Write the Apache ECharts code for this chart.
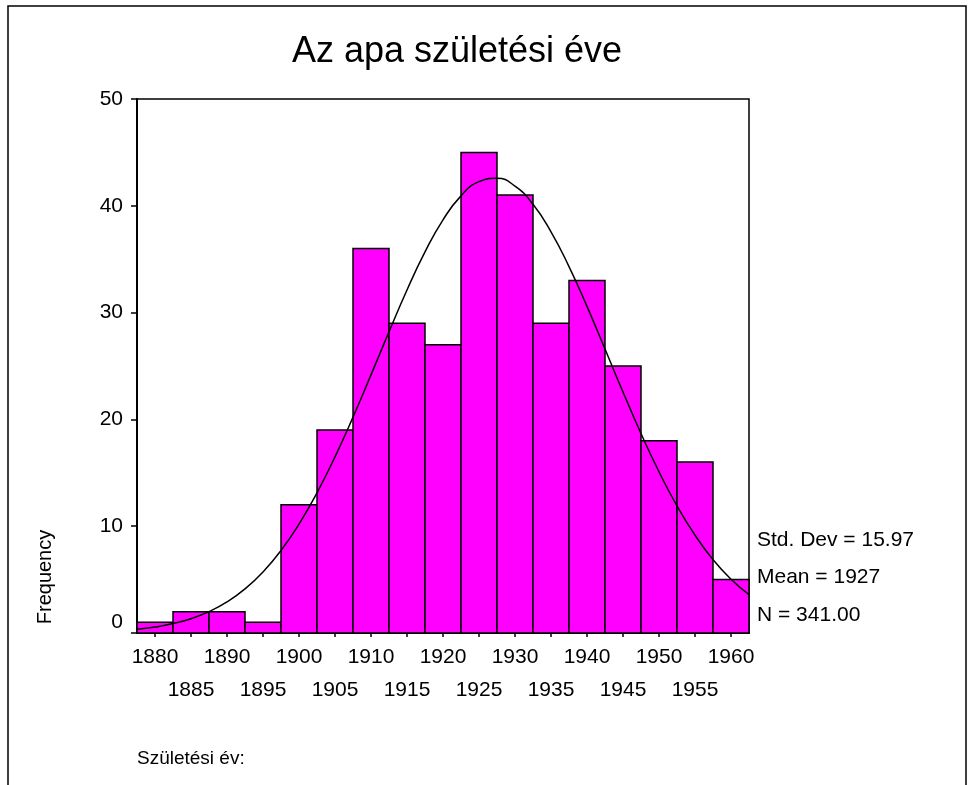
<!DOCTYPE html>
<html>
<head>
<meta charset="utf-8">
<script src="https://cdn.jsdelivr.net/npm/echarts@6/dist/echarts.min.js"></script>
<style>
  html, body { margin: 0; padding: 0; background: #fff; }
  #main { width: 973px; height: 785px; }
</style>
</head>
<body>
<div id="main"></div>
<script>
'use strict'
// bin midpoints (5-year bins) and counts
var binYears = [1880, 1885, 1890, 1895, 1900, 1905, 1910, 1915, 1920, 1925, 1930, 1935, 1940, 1945, 1950, 1955, 1960];
var binCounts = [1, 2, 2, 1, 12, 19, 36, 29, 27, 45, 41, 29, 33, 25, 18, 16, 5];

// fitted normal curve
var curveYears = [1877.5, 1880, 1882.5, 1885, 1887.5, 1890, 1892.5, 1895, 1897.5, 1900, 1902.5, 1905, 1907.5, 1910,
    1912.5, 1915, 1917.5, 1920, 1922.5, 1925, 1927.5, 1930, 1932.5, 1935, 1937.5, 1940, 1942.5, 1945, 1947.5,
    1950, 1952.5, 1955, 1957.5, 1960, 1962.5];
var curveValues = [0.35, 0.56, 0.88, 1.34, 2.0, 2.91, 4.13, 5.72, 7.73, 10.2, 13.13, 16.49, 20.21, 24.17,
    28.2, 32.12, 35.68, 38.69, 40.93, 42.26, 42.57, 41.84, 40.14, 37.57, 34.31, 30.58, 26.59, 22.56, 18.68,
    15.1, 11.9, 9.16, 6.87, 5.03, 3.6];

var xTickValues = [1880, 1885, 1890, 1895, 1900, 1905, 1910, 1915, 1920, 1925, 1930, 1935, 1940, 1945, 1950, 1955, 1960];
var xLabelsRow1 = [1880, 1890, 1900, 1910, 1920, 1930, 1940, 1950, 1960];
var xLabelsRow2 = [1885, 1895, 1905, 1915, 1925, 1935, 1945, 1955];
var yTickValues = [0, 10, 20, 30, 40, 50];

var statLines = ['Std. Dev = 15.97', 'Mean = 1927', 'N = 341.00'];

var chart = echarts.init(document.getElementById('main'));

var font = 'Arial, "Liberation Sans", sans-serif';

var barData = binYears.map(function (y, i) { return [y, binCounts[i]]; });
var curveData = curveYears.map(function (y, i) { return [y, curveValues[i]]; });

var xLabelBase = {
    showMinLabel: true,
    showMaxLabel: true,
    hideOverlap: false,
    color: '#000',
    fontFamily: font,
    fontSize: 21,
    formatter: function (v) { return String(v); }
};

var option = {
    backgroundColor: '#fff',
    animation: false,
    grid: {
        left: 137,
        right: 224,
        top: 99,
        bottom: 152,
        show: true,
        borderColor: '#000',
        borderWidth: 1.5
    },
    xAxis: [
        {
            type: 'value',
            min: 1877.5,
            max: 1962.5,
            splitLine: { show: false },
            axisLine: { onZero: false, lineStyle: { color: '#000', width: 2 } },
            axisTick: {
                customValues: xTickValues,
                length: 4,
                lineStyle: { color: '#000', width: 1.5 }
            },
            axisLabel: Object.assign({ customValues: xLabelsRow1, margin: 14 }, xLabelBase)
        },
        {
            type: 'value',
            position: 'bottom',
            min: 1877.5,
            max: 1962.5,
            splitLine: { show: false },
            axisLine: { show: false, onZero: false },
            axisTick: { show: false },
            axisLabel: Object.assign({ customValues: xLabelsRow2, margin: 47 }, xLabelBase)
        }
    ],
    yAxis: {
        type: 'value',
        min: 0,
        max: 50,
        interval: 10,
        splitLine: { show: false },
        axisLine: { show: true, lineStyle: { color: '#000', width: 2 } },
        axisTick: {
            show: true,
            customValues: yTickValues,
            length: 6,
            lineStyle: { color: '#000', width: 1.5 }
        },
        axisLabel: {
            customValues: yTickValues,
            showMinLabel: true,
            showMaxLabel: true,
            margin: 14,
            color: '#000',
            fontFamily: font,
            fontSize: 21,
            formatter: function (v) {
                return v === 0 ? '{z|0}' : String(v);
            },
            rich: {
                z: { fontFamily: font, fontSize: 21, color: '#000', padding: [0, 0, 22, 0] }
            }
        }
    },
    series: [
        {
            type: 'custom',
            data: barData,
            renderItem: function (params, api) {
                var x = api.value(0);
                var v = api.value(1);
                var p0 = api.coord([x - 2.5, 0]);
                var p1 = api.coord([x + 2.5, v]);
                return {
                    type: 'rect',
                    shape: { x: p0[0], y: p1[1], width: p1[0] - p0[0], height: p0[1] - p1[1] },
                    style: { fill: '#ff00ff', stroke: '#000', lineWidth: 1.5 }
                };
            }
        },
        {
            type: 'line',
            data: curveData,
            smooth: true,
            showSymbol: false,
            symbol: 'none',
            lineStyle: { color: '#000', width: 1.5 }
        }
    ],
    graphic: [
        {
            type: 'rect',
            shape: { x: 8, y: 6, width: 958, height: 800 },
            style: { fill: 'none', stroke: '#000', lineWidth: 1.5 },
            silent: true
        },
        {
            type: 'text',
            x: 457,
            y: 52,
            style: { text: 'Az apa születési éve', fill: '#000', font: '36px ' + font, align: 'center', verticalAlign: 'middle' }
        },
        {
            type: 'text',
            x: 45,
            y: 577,
            rotation: Math.PI / 2,
            style: { text: 'Frequency', fill: '#000', font: '20px ' + font, align: 'center', verticalAlign: 'middle' }
        },
        {
            type: 'text',
            x: 757,
            y: 540,
            style: { text: statLines[0], fill: '#000', font: '21px ' + font, align: 'left', verticalAlign: 'middle' }
        },
        {
            type: 'text',
            x: 757,
            y: 577,
            style: { text: statLines[1], fill: '#000', font: '21px ' + font, align: 'left', verticalAlign: 'middle' }
        },
        {
            type: 'text',
            x: 757,
            y: 615,
            style: { text: statLines[2], fill: '#000', font: '21px ' + font, align: 'left', verticalAlign: 'middle' }
        },
        {
            type: 'text',
            x: 137,
            y: 759,
            style: { text: 'Születési év:', fill: '#000', font: '19px ' + font, align: 'left', verticalAlign: 'middle' }
        }
    ]
};

chart.setOption(option);
</script>
</body>
</html>
